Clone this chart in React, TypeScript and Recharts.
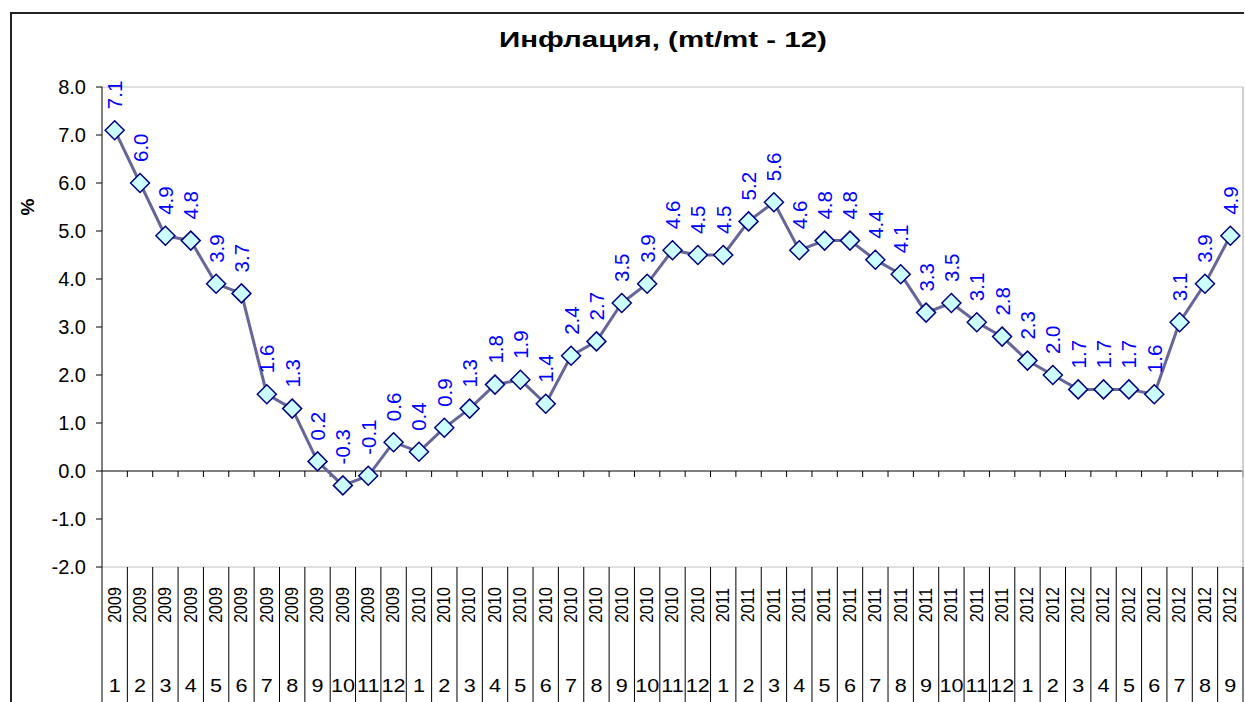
import React from 'react';
import { LineChart, Line, XAxis, YAxis, CartesianGrid, ReferenceLine, LabelList } from 'recharts';

const years: string[] = [
  '2009','2009','2009','2009','2009','2009','2009','2009','2009','2009','2009','2009',
  '2010','2010','2010','2010','2010','2010','2010','2010','2010','2010','2010','2010',
  '2011','2011','2011','2011','2011','2011','2011','2011','2011','2011','2011','2011',
  '2012','2012','2012','2012','2012','2012','2012','2012','2012',
];
const months: string[] = [
  '1','2','3','4','5','6','7','8','9','10','11','12',
  '1','2','3','4','5','6','7','8','9','10','11','12',
  '1','2','3','4','5','6','7','8','9','10','11','12',
  '1','2','3','4','5','6','7','8','9',
];
const inflation: number[] = [
  7.1, 6.0, 4.9, 4.8, 3.9, 3.7, 1.6, 1.3, 0.2, -0.3, -0.1, 0.6,
  0.4, 0.9, 1.3, 1.8, 1.9, 1.4, 2.4, 2.7, 3.5, 3.9, 4.6, 4.5,
  4.5, 5.2, 5.6, 4.6, 4.8, 4.8, 4.4, 4.1, 3.3, 3.5, 3.1, 2.8,
  2.3, 2.0, 1.7, 1.7, 1.7, 1.6, 3.1, 3.9, 4.9,
];
const yTicks: number[] = [-2, -1, 0, 1, 2, 3, 4, 5, 6, 7, 8];
const title = 'Инфлация, (mt/mt - 12)';
const yLabel = '%';

const data = inflation.map((v, i) => ({ key: `${years[i]}-${months[i]}`, year: years[i], month: months[i], value: v }));

const W = 1245;
const H = 702;
const MARGIN = { top: 87, right: 0, bottom: 0, left: 0 };
const Y_AXIS_W = 102;
const Y_AXIS_R_W = 2;
const X_AXIS_H = 135;
const N = data.length;
const BAND = (W - MARGIN.left - MARGIN.right - Y_AXIS_W - Y_AXIS_R_W) / N;
const FONT = '"Liberation Sans", Arial, sans-serif';

const XTick = (props: any) => {
  const { x, y, index } = props;
  const d = data[index];
  const left = x - BAND / 2;
  const right = x + BAND / 2;
  const yy = y + 38;
  const my = y + 119;
  return (
    <g>
      <line x1={left} y1={y} x2={left} y2={y + 200} stroke="#000" strokeWidth={1} />
      {index === N - 1 && <line x1={right} y1={y} x2={right} y2={y + 200} stroke="#000" strokeWidth={1} />}
      <text
        x={0}
        y={0}
        transform={`translate(${x} ${yy}) scale(1.13 1) rotate(-90)`}
        textAnchor="middle"
        dominantBaseline="central"
        fontSize={16}
        fontFamily={FONT}
        fill="#000"
      >
        {d.year}
      </text>
      <text
        x={0}
        y={0}
        transform={`translate(${x} ${my}) scale(1.2 1)`}
        textAnchor="middle"
        dominantBaseline="central"
        fontSize={18}
        fontFamily={FONT}
        fill="#000"
      >
        {d.month}
      </text>
    </g>
  );
};

const Diamond = (props: any) => {
  const { cx, cy } = props;
  if (cx == null || cy == null) return null;
  const r = 9.5;
  return (
    <polygon
      points={`${cx},${cy - r} ${cx + r},${cy} ${cx},${cy + r} ${cx - r},${cy}`}
      fill="#CCFFFF"
      stroke="#000080"
      strokeWidth={1.5}
    />
  );
};

const ValueLabel = (props: any) => {
  const { x, y, value } = props;
  const ty = y - 21;
  return (
    <text
      x={x}
      y={ty}
      transform={`rotate(-90 ${x} ${ty})`}
      textAnchor="start"
      dominantBaseline="central"
      fontSize={20.5}
      fontFamily={FONT}
      fill="#0000FF"
    >
      {Number(value).toFixed(1)}
    </text>
  );
};

const ZeroLine = (props: any) => {
  const { x1, y1, x2, y2 } = props;
  const step = (x2 - x1) / N;
  const ticks = [];
  for (let k = 1; k <= N; k++) {
    const tx = x1 + step * k;
    ticks.push(<line key={k} x1={tx} y1={y1} x2={tx} y2={y1 + 6} stroke="#000" strokeWidth={1} />);
  }
  return (
    <g>
      <line x1={x1} y1={y1} x2={x2} y2={y2} stroke="#000" strokeWidth={1} />
      {ticks}
    </g>
  );
};

export default function App() {
  return (
    <div style={{ position: 'fixed', left: 0, top: 0, width: W, height: H, overflow: 'hidden', background: '#fff', fontFamily: FONT }}>
      <div style={{ position: 'absolute', left: 10, top: 12, width: 1234, height: 800, borderTop: '2px solid #222', borderLeft: '2px solid #222', boxSizing: 'border-box' }} />
      <div style={{ position: 'absolute', left: 0, top: 27, width: 1326, textAlign: 'center', fontSize: 22, fontWeight: 'bold', color: '#000', transform: 'scaleX(1.34)' }}>
        {title}
      </div>
      <div style={{ position: 'absolute', left: 28, top: 207, transform: 'translate(-50%, -50%) rotate(-90deg)', fontSize: 19, fontWeight: 'bold', color: '#000' }}>
        {yLabel}
      </div>
      <div style={{ position: 'absolute', left: 0, top: 0 }}>
        <LineChart width={W} height={H} data={data} margin={MARGIN}>
          <CartesianGrid horizontal vertical={false} stroke="#c0c0c0" strokeWidth={1} />
          <XAxis
            dataKey="key"
            height={X_AXIS_H}
            axisLine={false}
            tickLine={false}
            tickSize={0}
            tickMargin={0}
            interval={0}
            padding={{ left: BAND / 2, right: BAND / 2 }}
            tick={<XTick />}
          />
          <YAxis
            yAxisId="left"
            width={Y_AXIS_W}
            domain={[-2, 8]}
            ticks={yTicks}
            interval={0}
            allowDataOverflow
            tickFormatter={(v: number) => v.toFixed(1)}
            axisLine={{ stroke: '#000', strokeWidth: 1 }}
            tickLine={{ stroke: '#000', strokeWidth: 1 }}
            tickSize={6}
            tickMargin={10}
            tick={{ fontSize: 20, fill: '#000', fontFamily: FONT }}
          />
          <YAxis
            yAxisId="right"
            orientation="right"
            width={Y_AXIS_R_W}
            domain={[-2, 8]}
            tick={false}
            tickLine={false}
            axisLine={{ stroke: '#c0c0c0', strokeWidth: 1.5 }}
          />
          <ReferenceLine yAxisId="left" y={0} shape={<ZeroLine />} />
          <Line
            yAxisId="left"
            type="linear"
            dataKey="value"
            stroke="#666699"
            strokeWidth={3}
            dot={<Diamond />}
            activeDot={false}
            isAnimationActive={false}
          >
            <LabelList dataKey="value" content={<ValueLabel />} />
          </Line>
        </LineChart>
      </div>
    </div>
  );
}
